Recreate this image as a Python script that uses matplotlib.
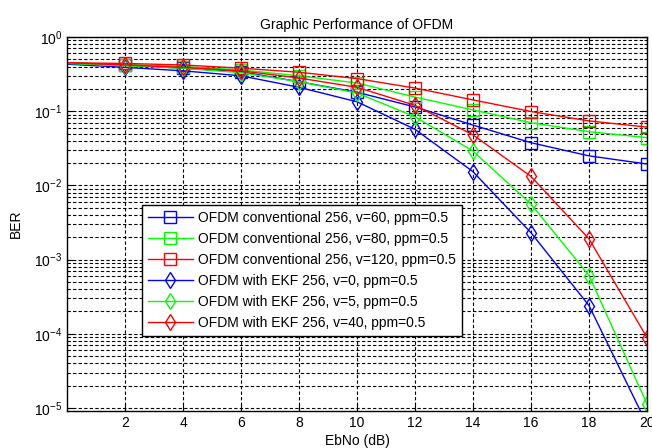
import numpy as np
import matplotlib
matplotlib.use("Agg")
import matplotlib.pyplot as plt
from matplotlib.ticker import LogLocator, FixedLocator

plt.rcParams["font.family"] = ["Liberation Sans", "DejaVu Sans"]
plt.rcParams["mathtext.default"] = "regular"

# EbNo axis (dB)
ebno = [0, 2, 4, 6, 8, 10, 12, 14, 16, 18, 20]

# BER values
ber_conv_v60 = [0.44, 0.42, 0.38, 0.34, 0.25, 0.18, 0.114, 0.065, 0.0376, 0.025, 0.0194]
ber_conv_v80 = [0.445, 0.425, 0.40, 0.36, 0.30, 0.24, 0.155, 0.104, 0.070, 0.053, 0.044]
ber_conv_v120 = [0.45, 0.44, 0.42, 0.38, 0.335, 0.275, 0.205, 0.142, 0.099, 0.074, 0.061]
ber_ekf_v0 = [0.43, 0.39, 0.35, 0.30, 0.21, 0.134, 0.057, 0.0153, 0.0023, 2.4e-4, 6e-6]
ber_ekf_v5 = [0.44, 0.41, 0.38, 0.33, 0.25, 0.176, 0.084, 0.029, 0.0056, 6.1e-4, 1.13e-5]
ber_ekf_v40 = [0.45, 0.42, 0.39, 0.35, 0.28, 0.21, 0.12, 0.048, 0.0132, 0.0019, 8.9e-5]

series = [
    (ber_conv_v60, "b", "s", "OFDM conventional 256, v=60, ppm=0.5"),
    (ber_conv_v80, "#00ff00", "s", "OFDM conventional 256, v=80, ppm=0.5"),
    (ber_conv_v120, "r", "s", "OFDM conventional 256, v=120, ppm=0.5"),
    (ber_ekf_v0, "b", "d", "OFDM with EKF 256, v=0, ppm=0.5"),
    (ber_ekf_v5, "#00ff00", "d", "OFDM with EKF 256, v=5, ppm=0.5"),
    (ber_ekf_v40, "r", "d", "OFDM with EKF 256, v=40, ppm=0.5"),
]

fig = plt.figure(figsize=(6.52, 4.48), dpi=100)
ax = fig.add_axes([0.1028, 0.0826, 0.8895, 0.8348])

for vals, col, mk, lab in series:
    ms = 8 if mk == "s" else 8.5
    ax.semilogy(ebno, vals, color=col, marker=mk, markersize=ms,
                markerfacecolor="none", markeredgecolor=col, linewidth=1,
                markevery=slice(1, None), label=lab)

ax.set_xlim(0, 20)
ax.set_ylim(9.1e-6, 1)
ax.xaxis.set_major_locator(FixedLocator([2, 4, 6, 8, 10, 12, 14, 16, 18, 20]))
ax.yaxis.set_major_locator(LogLocator(base=10, numticks=10))
ax.yaxis.set_minor_locator(LogLocator(base=10, subs=np.arange(2, 10), numticks=20))

ax.grid(True, which="major", color="black", linestyle=(0, (3, 2)), linewidth=0.8)
ax.grid(True, which="minor", axis="y", color="black", linestyle=(0, (3, 2)), linewidth=0.8)
ax.tick_params(which="both", direction="in", top=True, right=True, labelsize=10)
ax.tick_params(which="major", length=4)
ax.tick_params(which="minor", length=2)
for sp in ax.spines.values():
    sp.set_linewidth(1)

ax.set_title("Graphic Performance of OFDM", fontsize=10, pad=6)
ax.set_xlabel("EbNo (dB)", fontsize=10, labelpad=3)
ax.set_ylabel("BER", fontsize=10, labelpad=8)

leg = ax.legend(loc="lower left", bbox_to_anchor=(0.129, 0.2005), borderaxespad=0,
                fontsize=10, handlelength=3.2, handletextpad=0.4,
                labelspacing=0.5, borderpad=0.45, fancybox=False, framealpha=1)
leg.get_frame().set_edgecolor("black")
leg.get_frame().set_linewidth(1)

fig.savefig("out.png", dpi=100)
